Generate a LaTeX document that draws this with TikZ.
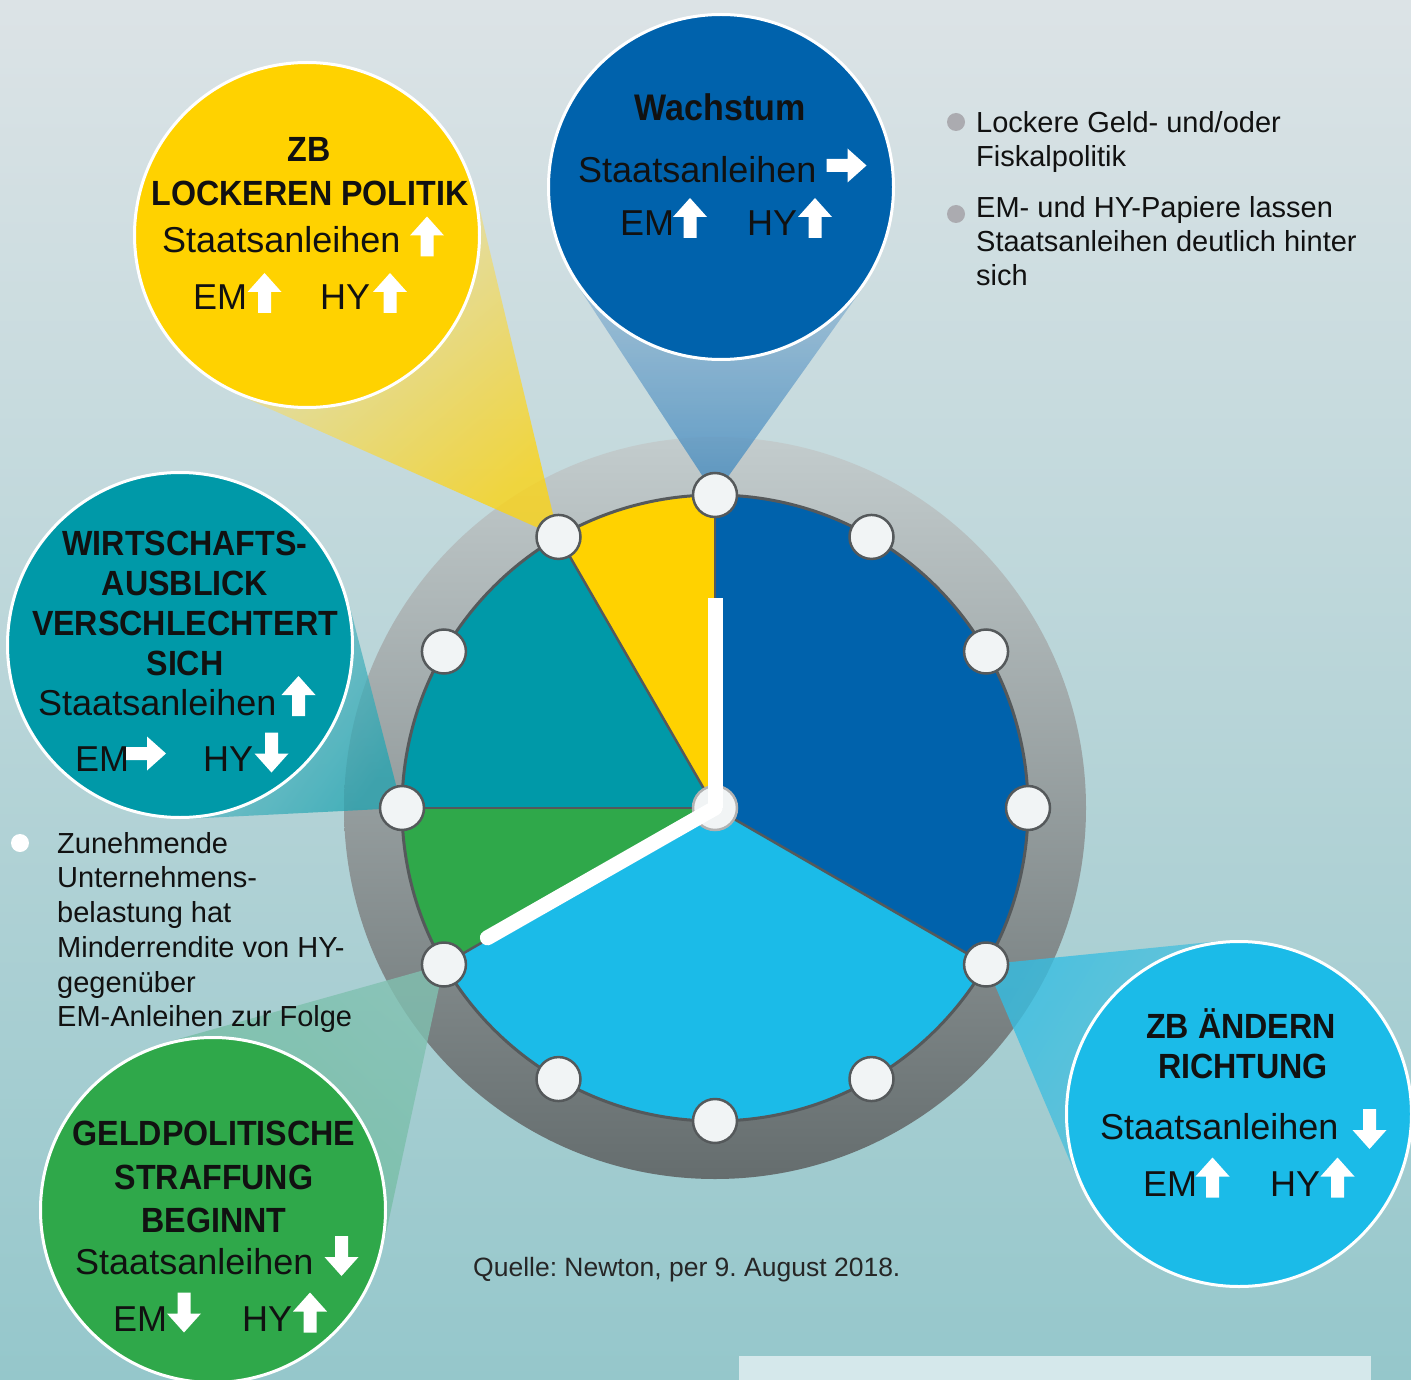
\documentclass[tikz,border=0pt]{standalone}
\usepackage{fontspec}
\setmainfont{Liberation Sans}
\newfontfamily\tf{Liberation Sans}[FakeStretch=0.92]
\usetikzlibrary{calc}
\frenchspacing
\definecolor{bgtop}{HTML}{DCE3E6}
\definecolor{bgbot}{HTML}{95C7CB}
\definecolor{ringtop}{HTML}{C3CCCD}
\definecolor{ringbot}{HTML}{656D6E}
\definecolor{yelc}{HTML}{FFD200}
\definecolor{dbluec}{HTML}{0062AC}
\definecolor{lbluec}{HTML}{1BBBE8}
\definecolor{grnc}{HTML}{2FA84A}
\definecolor{tealc}{HTML}{0099A8}
\definecolor{edgec}{HTML}{55595B}
\definecolor{markc}{HTML}{F1F4F5}
\definecolor{dotc}{HTML}{ABABB0}
\definecolor{boxc}{HTML}{D5E8EB}
\definecolor{txtc}{HTML}{111111}
\pgfdeclarelayer{bgl}
\pgfdeclarelayer{wdg}
\pgfsetlayers{bgl,wdg,main}
\tikzset{
  bubble/.style={circle, minimum size=345pt, draw=white, line width=3pt, inner sep=0pt},
  marker/.style={circle, minimum size=44pt, fill=markc, draw=edgec, line width=2.5pt, inner sep=0pt},
  rt/.style={anchor=base west, inner sep=0pt, text=txtc, font=\fontsize{36}{40}\selectfont},
  tt/.style={anchor=base, inner sep=0pt, text=txtc, font=\tf\bfseries\fontsize{35}{40}\selectfont},
  nt/.style={anchor=base west, inner sep=0pt, text=txtc, font=\fontsize{29}{34}\selectfont},
  arr/.pic={\fill[white] (0,-20) -- (17,-1) -- (6.5,-1) -- (6.5,20) -- (-6.5,20) -- (-6.5,-1) -- (-17,-1) -- cycle;}
}
\begin{document}
\begin{tikzpicture}[x=1pt,y=-1pt]
\useasboundingbox (0,0) rectangle (1411,1380);
\coordinate (c) at (715,808);
\begin{pgfonlayer}{bgl}
  \shade[top color=bgtop, bottom color=bgbot] (0,0) rectangle (1411,1380);
  \shade[top color=ringtop, bottom color=ringbot] (c) circle (371pt);
  \fill[boxc] (739,1356) rectangle (1371,1390);
\end{pgfonlayer}

% dial sectors
\fill[dbluec] (c) -- ++(90:313pt) arc[start angle=90, end angle=-30, radius=313pt] -- cycle;
\fill[lbluec] (c) -- ++(-30:313pt) arc[start angle=-30, end angle=-150, radius=313pt] -- cycle;
\fill[grnc] (c) -- ++(210:313pt) arc[start angle=210, end angle=180, radius=313pt] -- cycle;
\fill[tealc] (c) -- ++(180:313pt) arc[start angle=180, end angle=120, radius=313pt] -- cycle;
\fill[yelc] (c) -- ++(120:313pt) arc[start angle=120, end angle=90, radius=313pt] -- cycle;
\foreach \a in {90,-30,210,180,120} \draw[edgec, line width=2.5pt] (c) -- ++(\a:313pt);
\draw[edgec, line width=3pt] (c) circle (313pt);

% hands
\node[circle, minimum size=44pt, fill=markc, draw=black!30, line width=2.5pt, inner sep=0pt] (cap) at (c) {};
\draw[white, line width=15pt] (c) -- ++(90:210pt);
\draw[white, line width=15pt, line cap=round] (c) -- ++(209.7:262pt);

% markers
\foreach \i in {0,...,11} \node[marker] (m\i) at ([shift={(\i*30:313pt)}]c) {};

% bubbles
\node[bubble, fill=yelc] (byel) at (307,235) {};
\node[bubble, fill=dbluec] (bblu) at (721,187) {};
\node[bubble, fill=tealc] (btea) at (180,645) {};
\node[bubble, fill=grnc] (bgrn) at (213,1210) {};
\node[bubble, fill=lbluec] (blbl) at (1239,1114) {};

% pointer wedges
\begin{pgfonlayer}{wdg}
\shade[top color=yelc!15!bgtop, bottom color=yelc!90!bgtop, shading angle=40, opacity=0.8]
  (m4.center) -- (tangent cs:node=byel,point={(m4.center)},solution=1) -- (byel.center) -- (tangent cs:node=byel,point={(m4.center)},solution=2) -- cycle;
\shade[top color=dbluec!15!bgtop, bottom color=dbluec!70!bgtop, shading angle=0, opacity=0.8]
  (m3.center) -- (tangent cs:node=bblu,point={(m3.center)},solution=1) -- (bblu.center) -- (tangent cs:node=bblu,point={(m3.center)},solution=2) -- cycle;
\shade[top color=tealc!40!bgtop, bottom color=tealc!85!bgtop, shading angle=53.6, opacity=0.75]
  (m6.center) -- (tangent cs:node=btea,point={(m6.center)},solution=1) -- (btea.center) -- (tangent cs:node=btea,point={(m6.center)},solution=2) -- cycle;
\shade[top color=grnc!35!bgbot, bottom color=grnc!20!bgbot, shading angle=136.8, opacity=0.8]
  (m7.center) -- (tangent cs:node=bgrn,point={(m7.center)},solution=1) -- (bgrn.center) -- (tangent cs:node=bgrn,point={(m7.center)},solution=2) -- cycle;
\shade[top color=lbluec!40!bgbot, bottom color=lbluec!80!bgbot, shading angle=239.5, opacity=0.8]
  (m11.center) -- (tangent cs:node=blbl,point={(m11.center)},solution=1) -- (blbl.center) -- (tangent cs:node=blbl,point={(m11.center)},solution=2) -- cycle;
\end{pgfonlayer}

% yellow bubble text
\node[tt] (y1) at (309,162) {ZB};
\node[tt] (y2) at (310,206) {LOCKEREN POLITIK};
\node[rt] (y3) at (162,253) {Staatsanleihen};
\node[rt] (y4) at (193,310) {EM};
\node[rt] (y5) at (320,310) {HY};
\pic at (427,236.5) {arr};
\pic at (264.5,293) {arr};
\pic at (390,293) {arr};

% dark blue bubble text
\node[tt, font=\tf\bfseries\fontsize{37}{40}\selectfont] (b1) at (720,121) {Wachstum};
\node[rt] (b2) at (578,183) {Staatsanleihen};
\node[rt] (b3) at (620,236) {EM};
\node[rt] (b4) at (747,236) {HY};
\pic[rotate=-90] at (846.5,165.5) {arr};
\pic at (690,218) {arr};
\pic at (815,218) {arr};

% teal bubble text
\node[tt] (t1) at (185,555) {WIRTSCHAFTS-};
\node[tt] (t2) at (185,595) {AUSBLICK};
\node[tt] (t3) at (185,635) {VERSCHLECHTERT};
\node[tt] (t4) at (185,675) {SICH};
\node[rt] (t5) at (38,715) {Staatsanleihen};
\node[rt] (t6) at (75,771) {EM};
\node[rt] (t7) at (203,771) {HY};
\pic at (298.5,696) {arr};
\pic[rotate=-90] at (146,753.5) {arr};
\pic[rotate=180] at (271.5,752.5) {arr};

% green bubble text
\node[tt] (g1) at (214,1145) {GELDPOLITISCHE};
\node[tt] (g2) at (214,1189) {STRAFFUNG};
\node[tt] (g3) at (214,1232) {BEGINNT};
\node[rt] (g4) at (75,1274) {Staatsanleihen};
\node[rt] (g5) at (113,1331) {EM};
\node[rt] (g6) at (242,1331) {HY};
\pic[rotate=180] at (341.5,1256) {arr};
\pic[rotate=180] at (184,1312.5) {arr};
\pic at (310,1312.5) {arr};

% light blue bubble text
\node[tt] (l1) at (1241,1038) {ZB ÄNDERN};
\node[tt] (l2) at (1243,1078) {RICHTUNG};
\node[rt] (l3) at (1100,1139) {Staatsanleihen};
\node[rt] (l4) at (1143,1196) {EM};
\node[rt] (l5) at (1270,1196) {HY};
\pic[rotate=180] at (1369.5,1129) {arr};
\pic at (1212.5,1177.5) {arr};
\pic at (1337.5,1177.5) {arr};

% right notes
\node[circle, fill=dotc, minimum size=18pt, inner sep=0pt] (d1) at (956,122) {};
\node[circle, fill=dotc, minimum size=18pt, inner sep=0pt] (d2) at (956,214) {};
\node[nt] (r1) at (976,133) {Lockere Geld- und/oder};
\node[nt] (r2) at (976,167) {Fiskalpolitik};
\node[nt] (r3) at (976,218) {EM- und HY-Papiere lassen};
\node[nt] (r4) at (976,252) {Staatsanleihen deutlich hinter};
\node[nt] (r5) at (976,286) {sich};

% left note
\node[circle, fill=white, minimum size=18pt, inner sep=0pt] (d3) at (20,843) {};
\node[nt] (n1) at (57,853) {Zunehmende};
\node[nt] (n2) at (57,887) {Unternehmens-};
\node[nt] (n3) at (57,922) {belastung hat};
\node[nt] (n4) at (57,957) {Minderrendite von HY-};
\node[nt] (n5) at (57,992) {gegenüber};
\node[nt] (n6) at (57,1026) {EM-Anleihen zur Folge};

% source
\node[anchor=base west, inner sep=0pt, text=black!85, font=\fontsize{26.5}{30}\selectfont] (src) at (473,1276) {Quelle: Newton, per 9. August 2018.};
\end{tikzpicture}
\end{document}
